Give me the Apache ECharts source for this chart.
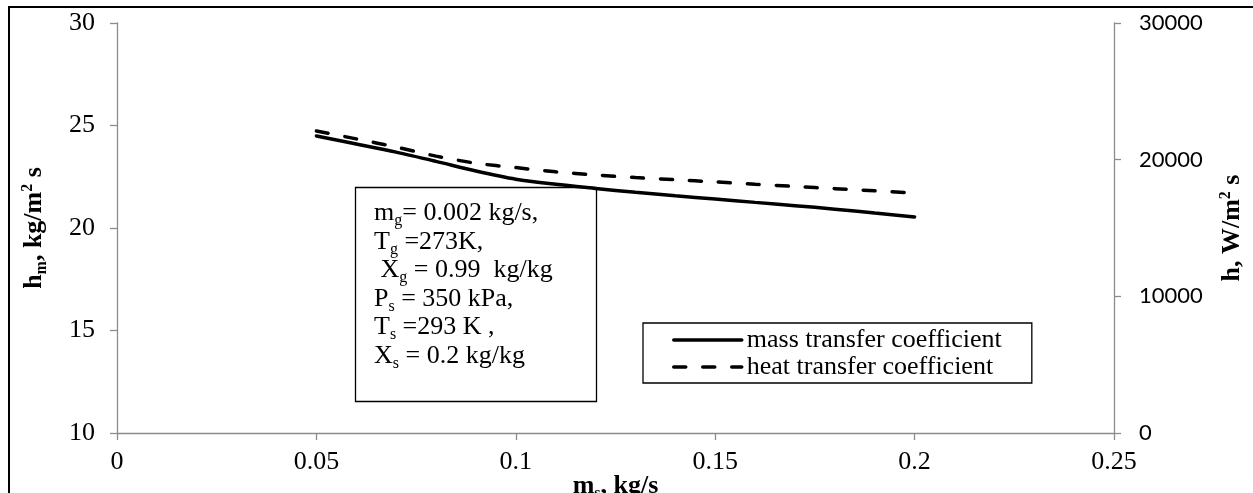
<!DOCTYPE html>
<html>
<head>
<meta charset="utf-8">
<script src="https://cdn.jsdelivr.net/npm/echarts@6/dist/echarts.min.js"></script>
<style>
html,body{margin:0;padding:0;background:#fff;}
#chart{width:1253px;height:493px;}
</style>
</head>
<body>
<div id="chart"></div>
<script>
const massFlow = [0.05,0.06,0.07,0.08,0.09,0.10,0.11,0.12,0.13,0.14,0.15,0.16,0.17,0.18,0.19,0.20];
const massTransfer = [24.49,24.10,23.70,23.25,22.78,22.38,22.13,21.93,21.74,21.57,21.41,21.25,21.09,20.92,20.73,20.54];
const heatTransfer = [22100,21520,20920,20260,19740,19420,19110,18880,18690,18530,18370,18200,18040,17880,17720,17560];
const xTickLabels = ['0','0.05','0.1','0.15','0.2','0.25'];
const leftTickLabels = ['10','15','20','25','30'];
const rightTickLabels = ['0','10000','20000','30000'];
const seriesNames = ['mass transfer coefficient','heat transfer coefficient'];
const noteLines = [
  '{n|m}{s|g}{n|= 0.002 kg/s,}',
  '{n|T}{s|g}{n| =273K,}',
  '{n| X}{s|g}{n| = 0.99  kg/kg}',
  '{n|P}{s|s}{n| = 350 kPa,}',
  '{n|T}{s|s}{n| =293 K ,}',
  '{n|X}{s|s}{n| = 0.2 kg/kg}'
];

const serif = 'Liberation Serif';
const axisGray = '#8c8c8c';
const nameRich = {
  b: {fontFamily: serif, fontWeight: 'bold', fontSize: 26, lineHeight: 30, color: '#000'},
  sub: {fontFamily: serif, fontWeight: 'bold', fontSize: 16, lineHeight: 14, verticalAlign: 'top', padding: [15,0,0,0], color: '#000'},
  sup: {fontFamily: serif, fontWeight: 'bold', fontSize: 16, lineHeight: 14, verticalAlign: 'top', padding: [1,0,0,0], color: '#000'}
};

const chart = echarts.init(document.getElementById('chart'), null, {renderer: 'canvas'});
const option = {
  animation: false,
  backgroundColor: '#fff',
  grid: {left: 117, right: 139, top: 23, bottom: 60, outerBoundsMode: 'none'},
  legend: {
    orient: 'vertical',
    left: 643, top: 323,
    data: seriesNames,
    itemWidth: 68, itemHeight: 14, itemGap: 1,
    padding: [4, 30, 3, 29],
    borderColor: '#000', borderWidth: 1.3, backgroundColor: '#fff',
    itemStyle: {opacity: 0},
    lineStyle: {width: 3.5},
    textStyle: {fontFamily: serif, fontSize: 26, lineHeight: 26, color: '#000', padding: [0,0,0,0]}
  },
  xAxis: {
    type: 'value', min: 0, max: 0.25, interval: 0.05,
    name: '{b|m}{sub|s}{b|, kg/s}', nameLocation: 'middle', nameGap: 38, nameMoveOverlap: false,
    nameTextStyle: {rich: nameRich},
    axisLine: {show: true, onZero: false, lineStyle: {color: axisGray, width: 1.3}},
    axisTick: {show: true, length: 7, lineStyle: {color: axisGray, width: 1.3}},
    splitLine: {show: false},
    axisLabel: {margin: 16, color: '#000', fontFamily: serif, fontSize: 26,
      formatter: v => xTickLabels[Math.round(v / 0.05)]}
  },
  yAxis: [
    {
      type: 'value', position: 'left', min: 10, max: 30, interval: 5,
      name: '{b|h}{sub|m}{b|, kg/m}{sup|2}{b| s}', nameLocation: 'middle', nameGap: 68, nameRotate: 90, nameMoveOverlap: false,
      nameTextStyle: {rich: nameRich},
      axisLine: {show: true, onZero: false, lineStyle: {color: axisGray, width: 1.3}},
      axisTick: {show: true, length: 7, lineStyle: {color: axisGray, width: 1.3}},
      splitLine: {show: false},
      axisLabel: {margin: 22, color: '#000', fontFamily: serif, fontSize: 26,
        formatter: v => leftTickLabels[Math.round((v - 10) / 5)]}
    },
    {
      type: 'value', position: 'right', min: 0, max: 30000, interval: 10000,
      name: '{b|h, W/m}{sup|2}{b| s}', nameLocation: 'middle', nameGap: 103, nameRotate: 90, nameMoveOverlap: false,
      nameTextStyle: {rich: nameRich},
      axisLine: {show: true, onZero: false, lineStyle: {color: axisGray, width: 1.3}},
      axisTick: {show: true, length: 7, lineStyle: {color: axisGray, width: 1.3}},
      splitLine: {show: false},
      axisLabel: {margin: 25, color: '#000', fontFamily: 'Lato', fontSize: 22,
        formatter: v => rightTickLabels[Math.round(v / 10000)]}
    }
  ],
  series: [
    {
      name: seriesNames[0], type: 'line', yAxisIndex: 0, smooth: 0.3,
      showSymbol: false, symbol: 'none',
      data: massFlow.map((x, i) => [x, massTransfer[i]]),
      lineStyle: {color: '#000', width: 3.5, cap: 'round'},
      itemStyle: {color: '#000'}
    },
    {
      name: seriesNames[1], type: 'line', yAxisIndex: 1, smooth: 0.3,
      showSymbol: false, symbol: 'none',
      data: massFlow.map((x, i) => [x, heatTransfer[i]]),
      lineStyle: {color: '#000', width: 3.5, type: [12, 17], cap: 'round'},
      itemStyle: {color: '#000'}
    }
  ],
  graphic: [
    {type: 'rect', shape: {x: 9, y: 7, width: 1400, height: 700}, style: {fill: 'none', stroke: '#000', lineWidth: 2}, silent: true, z: 100},
    {type: 'rect', shape: {x: 355.5, y: 187.5, width: 241, height: 214}, style: {fill: 'none', stroke: '#000', lineWidth: 1.3}, silent: true, z: 50},
    {type: 'text', x: 374, y: 199, silent: true, z: 51,
      style: {
        text: noteLines.join('\n'),
        verticalAlign: 'top', align: 'left',
        rich: {
          n: {fontFamily: serif, fontSize: 26, lineHeight: 28.5, color: '#000'},
          s: {fontFamily: serif, fontSize: 16, lineHeight: 14, verticalAlign: 'top', padding: [14,0,0,0], color: '#000'}
        }
      }
    }
  ]
};
chart.setOption(option);
</script>
</body>
</html>
